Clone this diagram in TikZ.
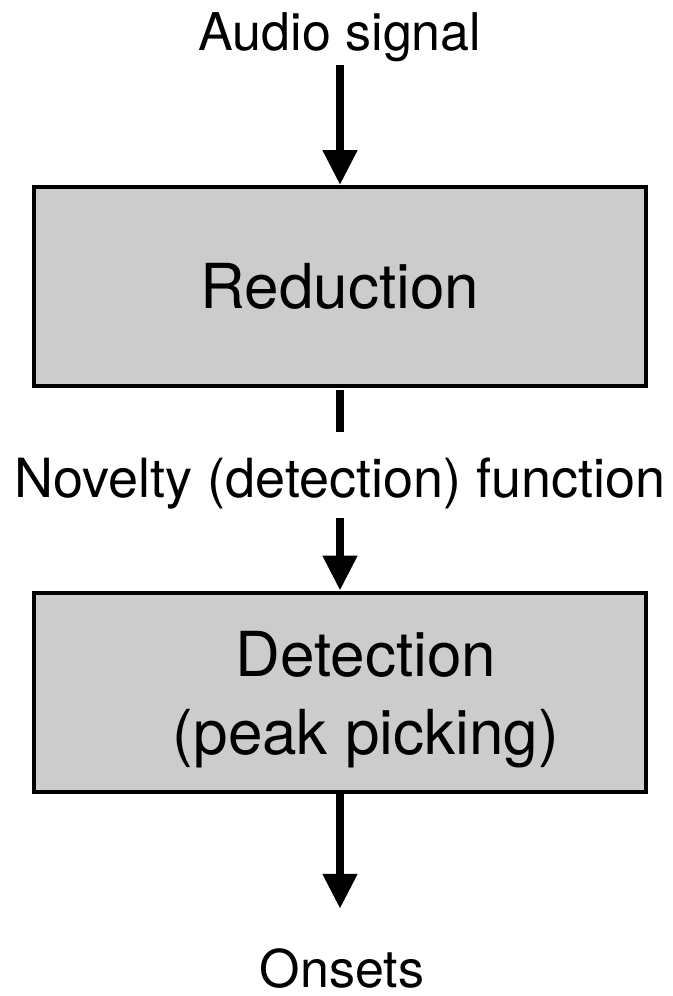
\documentclass[tikz,border=0pt]{standalone}
\usepackage{fontspec}
\setmainfont{TeX Gyre Heros}
\usepackage{tikz}
\usetikzlibrary{arrows.meta,positioning}
\definecolor{boxGray}{HTML}{CCCCCC}

\begin{document}
\begin{tikzpicture}[
    x=0.5pt, y=-0.5pt,
    every node/.style={inner sep=0pt},
    lbl/.style={font=\fontsize{26}{31}\selectfont, anchor=base},
    box/.style={
        draw,
        line width=2pt,
        fill=boxGray,
        minimum width=306pt,
        minimum height=99.5pt,
        font=\fontsize{31}{39}\selectfont,
        align=center
    },
    flow/.style={line width=4pt, -{Triangle[width=16.5pt,length=17.5pt]}}
]
  \useasboundingbox (0,0) rectangle (673,996);

  \node[lbl] (audio) at (340,50) {Audio signal};
  \node[box] (red) at (340,286.5) {Reduction};
  \node[lbl, font=\fontsize{27}{32}\selectfont] (nov) at (340,497) {Novelty (detection) function};
  \node[box] (det) at (340,692) {};
  \node[font=\fontsize{31}{39}\selectfont, align=center] (dettext) at (366,700) {Detection\\(peak picking)};
  \node[lbl] (ons) at (342,987) {Onsets};

  \draw[flow, shorten <=1.5pt] (audio) -- (red);
  \draw[line width=4pt, shorten <=1pt, shorten >=12.5pt] (red) -- (nov);
  \draw[flow, shorten <=4.5pt] (nov) -- (det);
  \draw[flow, shorten >=19.5pt] (det) -- (det |- ons.north);
\end{tikzpicture}
\end{document}
